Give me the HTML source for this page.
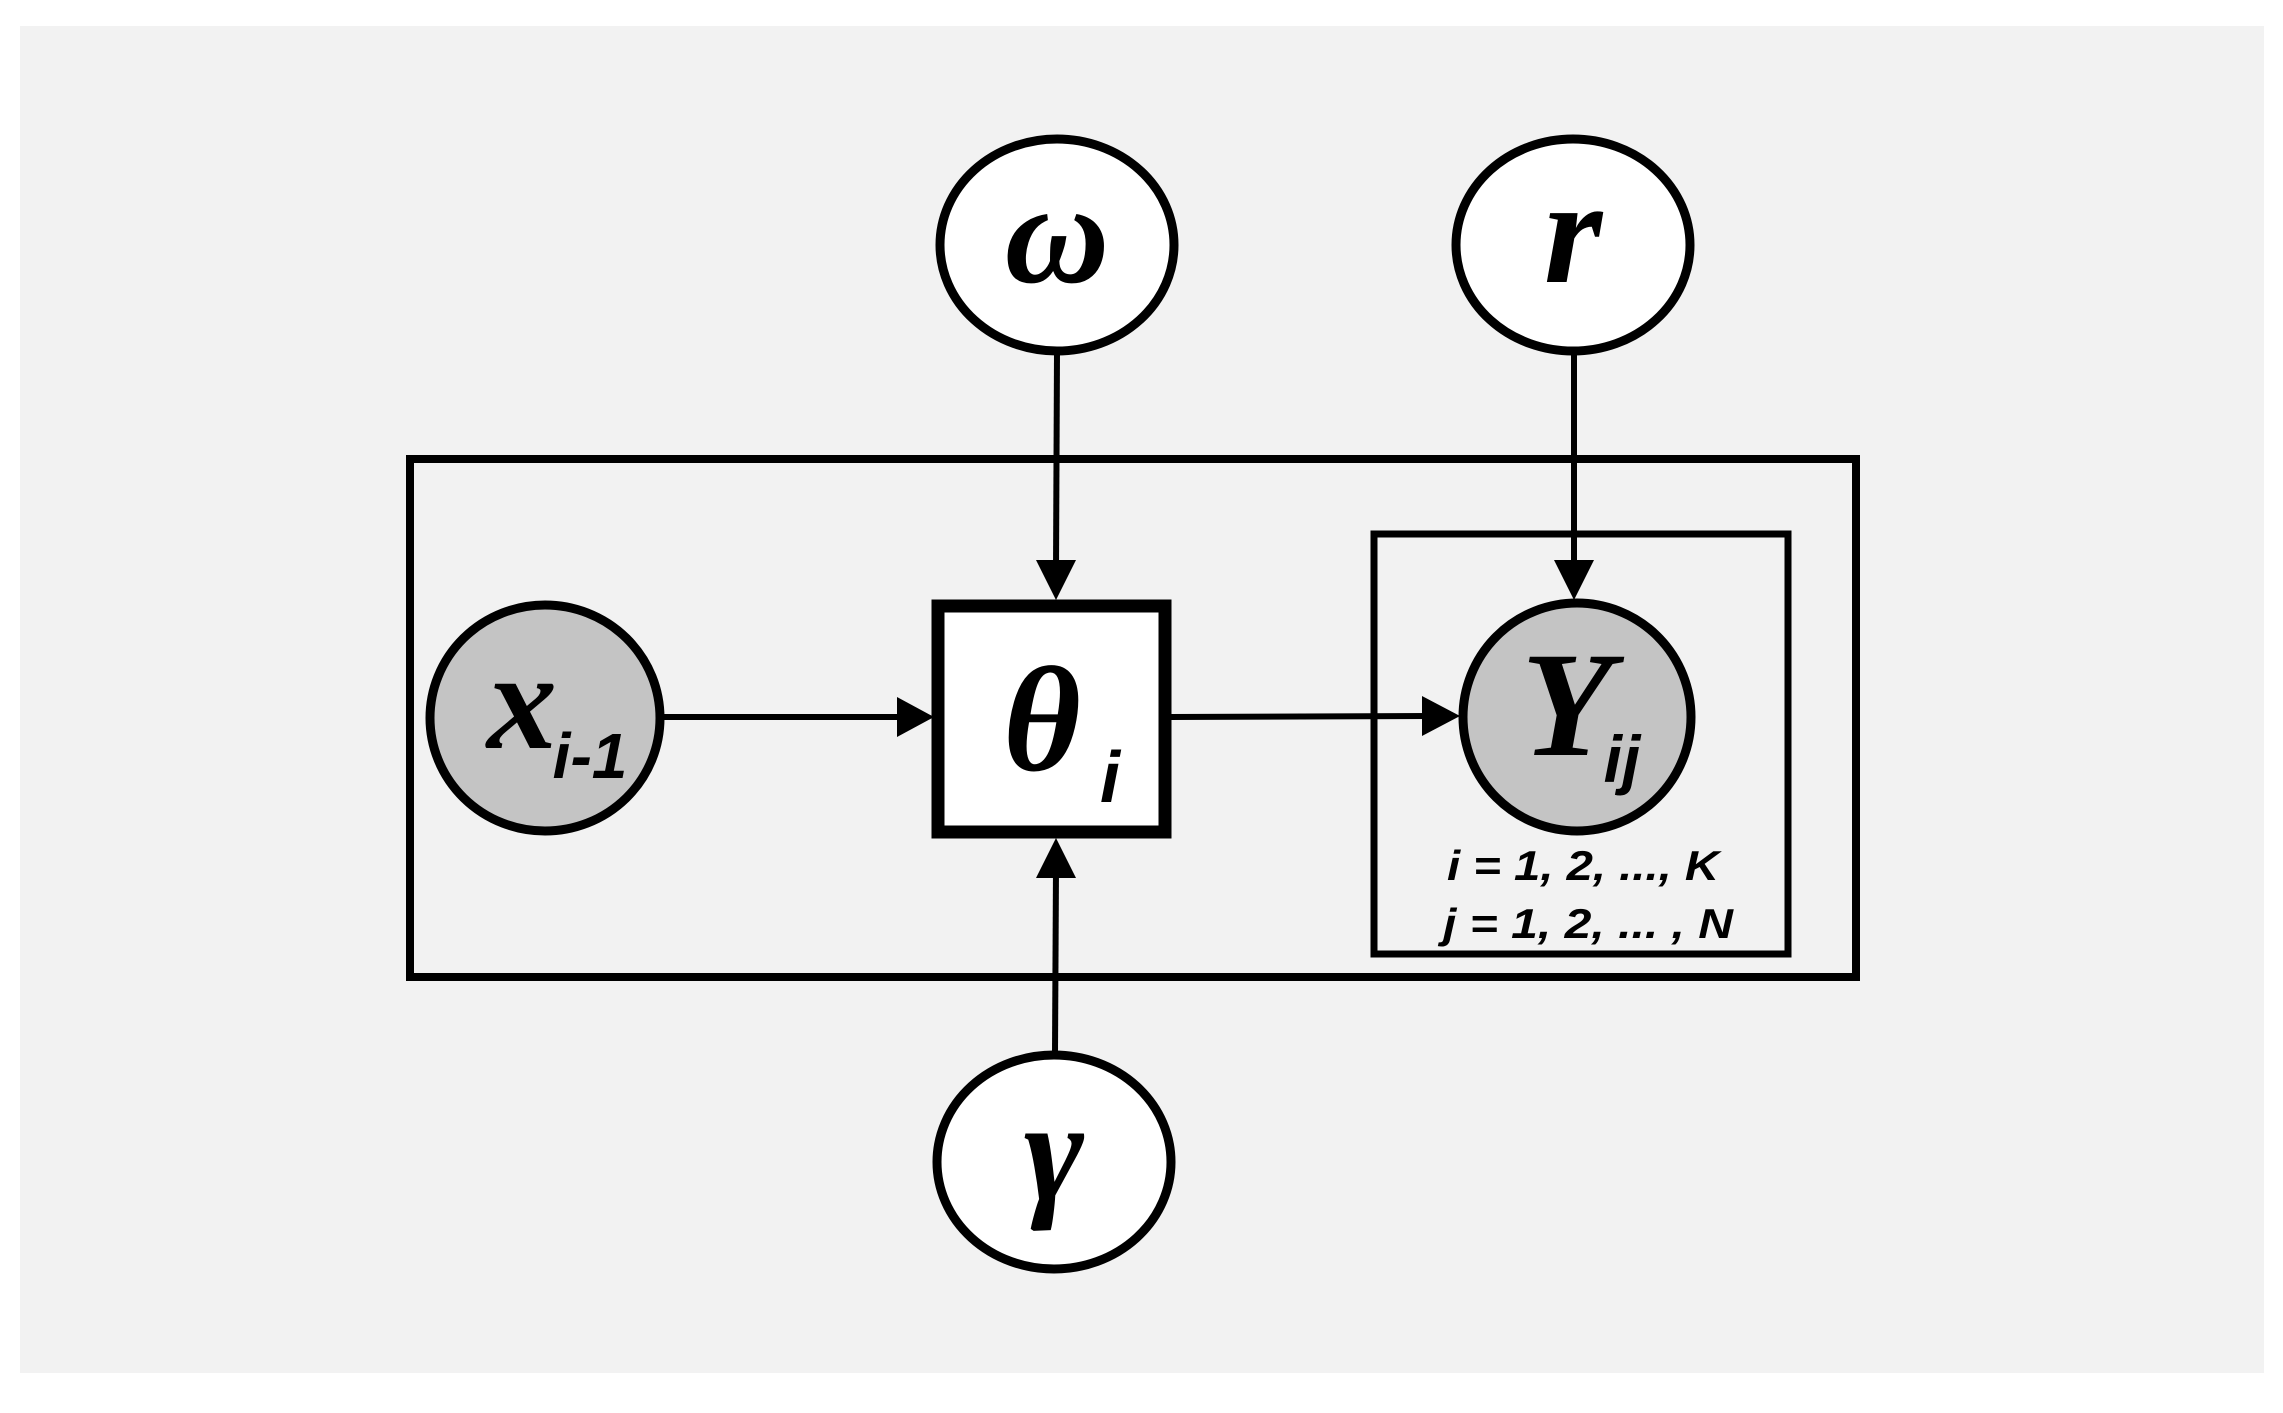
<!DOCTYPE html>
<html><head><meta charset="utf-8"><style>
html,body{margin:0;padding:0;background:#fff;}
svg{display:block;}
text{font-family:"Liberation Serif",serif;font-style:italic;font-weight:bold;fill:#000;}
.s{font-family:"Liberation Sans",sans-serif;}
</style></head><body>
<svg width="2283" height="1413" viewBox="0 0 2283 1413" xmlns="http://www.w3.org/2000/svg">
<rect x="0" y="0" width="2283" height="1413" fill="#fff"/>
<rect x="20" y="26" width="2244" height="1347" fill="#f2f2f2"/>
<rect x="410" y="459" width="1446" height="518" fill="none" stroke="#000" stroke-width="8"/>
<rect x="1374" y="534" width="414" height="420" fill="none" stroke="#000" stroke-width="7"/>
<g stroke="#000" stroke-width="6" fill="none">
<line x1="1057" y1="353" x2="1056" y2="570"/>
<line x1="1574" y1="353" x2="1574" y2="570"/>
<line x1="661" y1="717" x2="900" y2="717"/>
<line x1="1171" y1="717" x2="1430" y2="716"/>
<line x1="1055" y1="1052" x2="1056" y2="868"/>
</g>
<g fill="#000">
<polygon points="1036,560 1076,560 1056,600"/>
<polygon points="1554,560 1594,560 1574,600"/>
<polygon points="897,697 897,737 934,717"/>
<polygon points="1422,696 1422,736 1460,716"/>
<polygon points="1036,878 1076,878 1056,838"/>
</g>
<g stroke="#000" stroke-width="9">
<ellipse cx="1057" cy="245" rx="117" ry="106" fill="#fff"/>
<ellipse cx="1573" cy="245" rx="117" ry="106" fill="#fff"/>
<ellipse cx="1054" cy="1162" rx="117" ry="107" fill="#fff"/>
<ellipse cx="545" cy="718" rx="115" ry="113" fill="#c4c4c4"/>
<ellipse cx="1577" cy="717" rx="114" ry="114" fill="#c4c4c4"/>
</g>
<rect x="938" y="606" width="227" height="226" fill="#fff" stroke="#000" stroke-width="13"/>
<text x="1057" y="282" font-size="145" text-anchor="middle">ω</text>
<text x="1573" y="282" font-size="150" text-anchor="middle">r</text>
<text x="1054" y="1200" font-size="145" text-anchor="middle">γ</text>
<text x="522" y="748" font-size="140" text-anchor="middle">x</text>
<text x="590" y="778" font-size="64" text-anchor="middle" class="s">i-1</text>
<text x="1042" y="770" font-size="150" text-anchor="middle">θ</text>
<text x="1110" y="802" font-size="72" text-anchor="middle" class="s">i</text>
<text x="1567" y="755" font-size="150" text-anchor="middle">Y</text>
<text x="1622" y="782" font-size="66" text-anchor="middle" class="s">ij</text>
<text x="1447" y="880" font-size="42" textLength="272" lengthAdjust="spacingAndGlyphs" class="s">i = 1, 2, ..., K</text>
<text x="1443" y="938" font-size="42" textLength="290" lengthAdjust="spacingAndGlyphs" class="s">j = 1, 2, ... , N</text>
</svg>
</body></html>
